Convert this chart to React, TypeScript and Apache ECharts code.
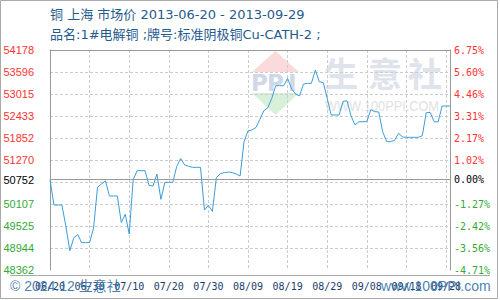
import React, { useEffect, useRef } from "react";
import * as echarts from "echarts";

const basePrice = 50752;
const yMin = 48362;
const yMax = 54178;
const gridTicks = [48943.6, 49525.2, 50106.8, 50688.4, 51270, 51851.6, 52433.2, 53014.8, 53596.4];
const labelTicks = [48362, 48943.6, 49525.2, 50106.8, 50752, 51270, 51851.6, 52433.2, 53014.8, 53596.4, 54178];

const dates = [
  "06/20", "06/21", "06/22", "06/23", "06/24", "06/25", "06/26", "06/27", "06/28", "06/29", "06/30",
  "07/01", "07/02", "07/03", "07/04", "07/05", "07/06", "07/07", "07/08", "07/09", "07/10",
  "07/11", "07/12", "07/13", "07/14", "07/15", "07/16", "07/17", "07/18", "07/19", "07/20",
  "07/21", "07/22", "07/23", "07/24", "07/25", "07/26", "07/27", "07/28", "07/29", "07/30", "07/31",
  "08/01", "08/02", "08/03", "08/04", "08/05", "08/06", "08/07", "08/08", "08/09", "08/10",
  "08/11", "08/12", "08/13", "08/14", "08/15", "08/16", "08/17", "08/18", "08/19", "08/20",
  "08/21", "08/22", "08/23", "08/24", "08/25", "08/26", "08/27", "08/28", "08/29", "08/30", "08/31",
  "09/01", "09/02", "09/03", "09/04", "09/05", "09/06", "09/07", "09/08", "09/09", "09/10",
  "09/11", "09/12", "09/13", "09/14", "09/15", "09/16", "09/17", "09/18", "09/19", "09/20",
  "09/21", "09/22", "09/23", "09/24", "09/25", "09/26", "09/27", "09/28", "09/29",
];

const prices = [
  50752, 50080, 50080, 50080, 49525, 48870, 49210, 49300, 49085, 49085, 49085,
  49470, 50550, 50635, 50720, 50318, 50318, 50318, 49620, 49834, 49314,
  50745, 50988, 50988, 50988, 50600, 50580, 50900, 50230, 50680, 50680,
  50680, 51100, 51310, 51140, 51105, 51076, 51076, 51076, 49950, 50070, 49910,
  50800, 50910, 50935, 50950, 50940, 50900, 50847, 51760, 52040, 52063,
  52130, 52345, 52574, 52650, 52900, 53235, 53235, 53235, 53429, 53150,
  53015, 52962, 53279, 53297, 53297, 53649, 53341, 53315, 52900, 52460, 52460,
  52460, 52820, 52835, 52440, 52200, 52280, 52283, 52283, 52600, 52548,
  52540, 52019, 51755, 51755, 51790, 51975, 51880, 51869, 51869, 51869,
  51869, 51910, 52520, 52530, 52283, 52275, 52697, 52697, 52697,
];

const titleLine1 = "铜 上海 市场价 2013-06-20 - 2013-09-29";
const titleLine2 = "品名:1#电解铜 ;牌号:标准阴极铜Cu-CATH-2 ;";

const RED = "#ff3333";
const GREEN = "#33aa33";
const colorFor = (v: any) => {
  const n = Number(v);
  if (Math.abs(n - basePrice) < 0.5) return "#000000";
  return n > basePrice ? RED : GREEN;
};

export default function App() {
  const ref = useRef<HTMLDivElement>(null);
  useEffect(() => {
    document.body.style.margin = "0";
    const chart = echarts.init(ref.current!, null, { renderer: "svg" });
    const cjk = "'DejaVu Sans', 'Noto Sans CJK SC', sans-serif";
    const wmText = (t: string, x: number) => ({
      type: "text", x, y: 83, z: -10,
      style: { text: t, fontSize: 23, fontWeight: "bold", fontFamily: "'DejaVu Sans', sans-serif", fill: "#d0d8e8", verticalAlign: "middle" },
    });
    const cjkMark = (t: string, x: number) => ({
      type: "text", x, y: 72, z: -10,
      style: { text: t, fontSize: 34, fontWeight: "bold", fontFamily: "'Noto Sans CJK SC', sans-serif", fill: "#dfe3ec", align: "center", verticalAlign: "middle" },
    });
    chart.setOption({
      animation: false,
      backgroundColor: "#ffffff",
      grid: { left: 50, right: 50, top: 50, bottom: 30, containLabel: false },
      xAxis: [
        {
          type: "category",
          data: dates,
          boundaryGap: false,
          axisLine: { show: false },
          axisTick: { show: false },
          axisLabel: {
            interval: 9,
            margin: 11,
            fontSize: 10,
            fontFamily: "'DejaVu Sans Mono', monospace",
            color: "#1a3d6d",
          },
          splitLine: {
            show: true,
            interval: 9,
            lineStyle: { color: "#cccccc", type: [3, 2], width: 1 },
          },
        },
        {
          type: "category",
          data: dates,
          position: "top",
          boundaryGap: false,
          axisLine: { show: true, lineStyle: { color: "#999999" } },
          axisTick: { show: false },
          axisLabel: { show: false },
          splitLine: { show: false },
        },
      ],
      yAxis: [
        {
          type: "value",
          min: yMin,
          max: yMax,
          position: "left",
          axisLine: { show: true, lineStyle: { color: "#999999" } },
          axisTick: { show: false, customValues: gridTicks },
          axisLabel: {
            customValues: labelTicks,
            formatter: (v: number) => String(Math.round(v)),
            color: colorFor,
            fontSize: 11,
            fontFamily: "'Liberation Sans', Arial, sans-serif",
            margin: 16,
          },
          splitLine: {
            show: true,
            lineStyle: { color: "#cccccc", type: [3, 2], width: 1 },
          },
        },
        {
          type: "value",
          min: yMin,
          max: yMax,
          position: "right",
          axisLine: { show: true, lineStyle: { color: "#999999" } },
          axisTick: { show: false, customValues: gridTicks },
          axisLabel: {
            customValues: labelTicks,
            formatter: (v: number) => ((v / basePrice - 1) * 100).toFixed(2) + "%",
            color: colorFor,
            fontSize: 10,
            fontFamily: "'DejaVu Sans Mono', monospace",
            margin: 4,
          },
          splitLine: { show: false },
        },
      ],
      graphic: [
        { type: "rect", shape: { x: 0.5, y: 0.5, width: 497, height: 298 }, style: { fill: "none", stroke: "#aaaaaa", lineWidth: 1 }, z: 100 },
        { type: "polygon", shape: { points: [[252, 72], [275.5, 51], [299, 72]] }, style: { fill: "#fadada" }, z: -10 },
        { type: "polygon", shape: { points: [[252, 93], [275.5, 115], [299, 93]] }, style: { fill: "#d8f0da" }, z: -10 },
        wmText("P", 251),
        wmText("P", 267),
        wmText("I", 288),
        cjkMark("生", 341),
        cjkMark("意", 385),
        cjkMark("社", 425),
        { type: "text", x: 325, y: 106, scaleX: 0.85, z: -10, style: { text: "WWW.100PPI.COM", fontSize: 15, fontFamily: "'Liberation Sans', Arial, sans-serif", fill: "#e2e2e2", verticalAlign: "middle" } },
        { type: "text", x: 50, y: 14.5, style: { text: titleLine1, fontSize: 13, fontFamily: cjk, fill: "#1f5b8e", verticalAlign: "middle" } },
        { type: "text", x: 50, y: 34, style: { text: titleLine2, fontSize: 13, fontFamily: cjk, fill: "#1f5b8e", verticalAlign: "middle" } },
        { type: "line", shape: { x1: 10, y1: 275.5, x2: 490, y2: 275.5 }, style: { stroke: "#aaaaaa", lineWidth: 1 } },
        { type: "text", x: 10, y: 286, z: 50, style: { text: "© 2024.12 生意社", fontSize: 14, fontFamily: "'Liberation Sans', 'Noto Sans CJK SC', sans-serif", fill: "rgba(40,105,165,0.85)", verticalAlign: "middle" } },
        { type: "text", x: 381, y: 286, z: 50, style: { text: "www.100PPI.com", fontSize: 14, fontFamily: "'Liberation Sans', Arial, sans-serif", fill: "rgba(40,105,165,0.85)", verticalAlign: "middle" } },
      ],
      series: [
        {
          type: "line",
          xAxisIndex: 0,
          yAxisIndex: 0,
          data: prices,
          showSymbol: false,
          symbol: "none",
          lineStyle: { color: "#3b9ddd", width: 1 },
          markLine: {
            silent: true,
            symbol: ["none", "none"],
            label: { show: false },
            lineStyle: { color: "#999999", type: "solid", width: 1 },
            data: [{ yAxis: basePrice }],
          },
        },
      ],
    });
    return () => chart.dispose();
  }, []);
  return <div ref={ref} style={{ width: 500, height: 300 }} />;
}
